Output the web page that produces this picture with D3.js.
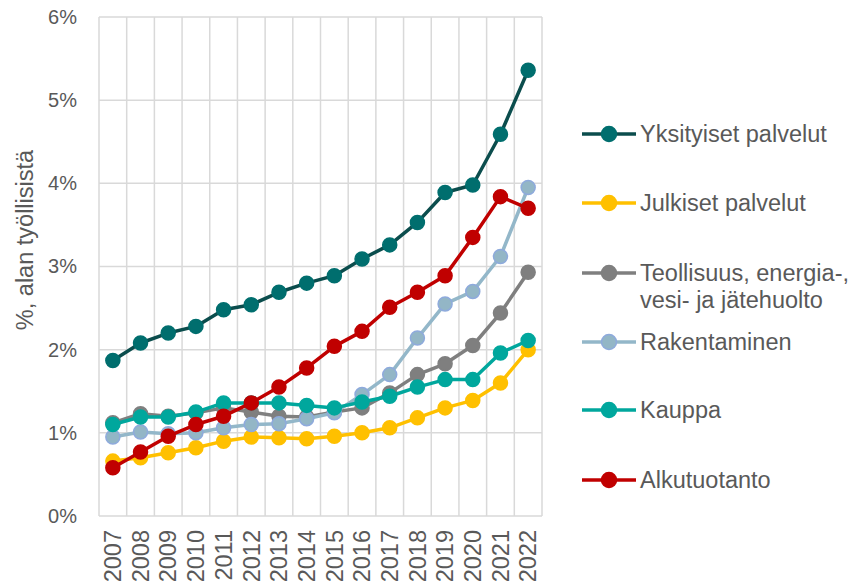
<!DOCTYPE html>
<html>
<head>
<meta charset="utf-8">
<script src="https://cdn.jsdelivr.net/npm/d3@7"></script>
<style>
  body { margin: 0; background: #fff; }
  text { font-family: Arial, "Liberation Sans", sans-serif; fill: #595959; }
</style>
</head>
<body>
<svg id="chart" width="858" height="583"></svg>
<script>
var years = ["2007","2008","2009","2010","2011","2012","2013","2014","2015","2016","2017","2018","2019","2020","2021","2022"];
var yTicks = [0, 1, 2, 3, 4, 5, 6];

var yksityiset = [1.87, 2.08, 2.20, 2.28, 2.48, 2.54, 2.69, 2.80, 2.89, 3.09, 3.26, 3.53, 3.89, 3.98, 4.59, 5.36];
var julkiset = [0.66, 0.70, 0.76, 0.82, 0.90, 0.95, 0.94, 0.93, 0.96, 1.00, 1.06, 1.18, 1.30, 1.39, 1.60, 2.00];
var teollisuus = [1.12, 1.23, 1.20, 1.24, 1.30, 1.25, 1.20, 1.19, 1.25, 1.30, 1.48, 1.70, 1.83, 2.05, 2.44, 2.93];
var rakentaminen = [0.95, 1.01, 0.99, 1.00, 1.06, 1.10, 1.11, 1.17, 1.24, 1.46, 1.70, 2.14, 2.55, 2.70, 3.12, 3.95];
var kauppa = [1.10, 1.19, 1.19, 1.25, 1.36, 1.36, 1.36, 1.33, 1.30, 1.37, 1.44, 1.55, 1.64, 1.64, 1.96, 2.11];
var alkutuotanto = [0.58, 0.77, 0.96, 1.10, 1.20, 1.36, 1.55, 1.78, 2.04, 2.22, 2.51, 2.69, 2.89, 3.35, 3.84, 3.70];

var names = ["Yksityiset palvelut", "Julkiset palvelut", "Teollisuus, energia-,|vesi- ja jätehuolto", "Rakentaminen", "Kauppa", "Alkutuotanto"];

var series = [
  { name: names[0], values: yksityiset, line: "#0b4d4d", fill: "#006e6e", stroke: "#006e6e" },
  { name: names[1], values: julkiset, line: "#ffc000", fill: "#ffc000", stroke: "#ffc000" },
  { name: names[2], values: teollisuus, line: "#7f7f7f", fill: "#7f7f7f", stroke: "#7f7f7f" },
  { name: names[3], values: rakentaminen, line: "#93b7c9", fill: "#93b6c6", stroke: "#8eaadc" },
  { name: names[4], values: kauppa, line: "#00a79d", fill: "#00a79d", stroke: "#00a79d" },
  { name: names[5], values: alkutuotanto, line: "#c00000", fill: "#c00000", stroke: "#c00000" }
];

var svg = d3.select("#chart");
var MARGINS = { top: 17, right: 316, bottom: 67, left: 99 },
    WIDTH = 858, HEIGHT = 583;

var xScale = d3.scaleBand().domain(years).range([MARGINS.left, WIDTH - MARGINS.right]);
var yScale = d3.scaleLinear().domain([0, 6]).range([HEIGHT - MARGINS.bottom, MARGINS.top]);

// grid
var grid = svg.append("g");
grid.selectAll(".hgrid")
    .data(yTicks)
    .enter().append("line")
    .attr("x1", xScale.range()[0]).attr("x2", xScale.range()[1])
    .attr("y1", function(d) { return yScale(d); })
    .attr("y2", function(d) { return yScale(d); })
    .attr("stroke", "#d9d9d9").attr("stroke-width", 1.5);

var bounds = years.map(function(y) { return xScale(y); }).concat([xScale.range()[1]]);
grid.selectAll(".vgrid")
    .data(bounds)
    .enter().append("line")
    .attr("x1", function(d) { return d; }).attr("x2", function(d) { return d; })
    .attr("y1", yScale(6)).attr("y2", yScale(0))
    .attr("stroke", "#d9d9d9").attr("stroke-width", 1.5);

// y axis labels
var yAxis = d3.axisLeft(yScale).tickValues(yTicks).tickSize(0).tickPadding(22)
    .tickFormat(function(d) { return d + "%"; });
svg.append("g")
   .attr("transform", "translate(" + MARGINS.left + ",0)")
   .call(yAxis)
   .call(function(g) { g.select(".domain").remove(); })
   .selectAll("text")
   .style("font-size", "20px").attr("fill", "#595959")
   .style("font-family", "Arial, 'Liberation Sans', sans-serif");

// x axis labels
var xAxis = d3.axisBottom(xScale).tickSize(0).tickPadding(0);
svg.append("g")
   .attr("transform", "translate(0," + yScale(0) + ")")
   .call(xAxis)
   .call(function(g) { g.select(".domain").remove(); })
   .selectAll("text")
   .style("font-size", "23.5px").attr("fill", "#595959")
   .style("font-family", "Arial, 'Liberation Sans', sans-serif")
   .attr("text-anchor", "end")
   .attr("transform", "translate(0,14) rotate(-90)")
   .attr("x", 0).attr("y", 0).attr("dy", "0.35em");

// y title
svg.append("text")
   .attr("transform", "translate(33,240) rotate(-90)")
   .attr("text-anchor", "middle")
   .style("font-size", "23.5px")
   .text("%, alan työllisistä");

var lineGen = d3.line()
    .x(function(d, i) { return xScale(years[i]) + xScale.bandwidth() / 2; })
    .y(function(d) { return yScale(d); });

series.forEach(function(s) {
  var g = svg.append("g");
  g.append("path")
   .attr("d", lineGen(s.values))
   .attr("fill", "none")
   .attr("stroke", s.line)
   .attr("stroke-width", 3.5)
   .attr("stroke-linejoin", "round");
  g.selectAll("circle")
   .data(s.values)
   .enter().append("circle")
   .attr("cx", function(d, i) { return xScale(years[i]) + xScale.bandwidth() / 2; })
   .attr("cy", function(d) { return yScale(d); })
   .attr("r", 7)
   .attr("fill", s.fill)
   .attr("stroke", s.stroke)
   .attr("stroke-width", 1.5);
});

// legend
var legendY = [134, 203, 273, 342, 410, 480];
var legend = svg.selectAll(".legend")
    .data(series)
    .enter().append("g")
    .attr("transform", function(d, i) { return "translate(582," + legendY[i] + ")"; });
legend.append("line")
    .attr("x1", 0).attr("x2", 54).attr("y1", 0).attr("y2", 0)
    .attr("stroke", function(d) { return d.line; })
    .attr("stroke-width", 3.5);
legend.append("circle")
    .attr("cx", 27).attr("cy", 0).attr("r", 7.5)
    .attr("fill", function(d) { return d.fill; })
    .attr("stroke", function(d) { return d.stroke; })
    .attr("stroke-width", 1.5);
legend.append("text")
    .attr("x", 58).attr("y", 0)
    .style("font-size", "23.5px")
    .each(function(d) {
      var parts = d.name.split("|");
      var t = d3.select(this);
      parts.forEach(function(p, k) {
        t.append("tspan").attr("x", 58).attr("dy", k === 0 ? "0.35em" : "1.12em").text(p);
      });
    });
</script>
</body>
</html>
